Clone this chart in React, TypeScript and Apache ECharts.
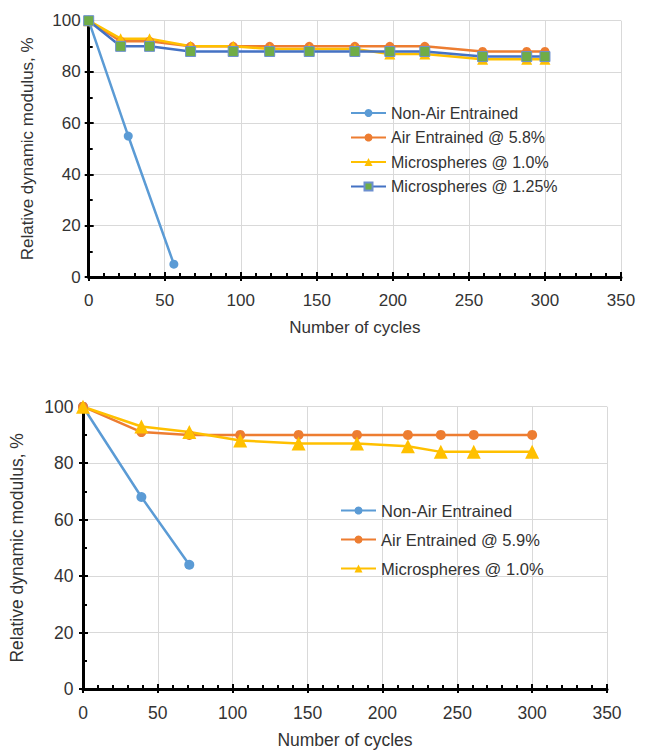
import React, { useEffect, useRef } from "react";
import * as echarts from "echarts";

// ---- Top chart data ----
const topCycles = [0, 21, 40, 67, 95, 119, 145, 175, 198, 221, 259, 288, 300];
const topNonAirCycles = [0, 26, 56];
const topNonAir = [100, 55, 5];
const topAirEntrained = [100, 92, 92, 90, 90, 90, 90, 90, 90, 90, 88, 88, 88];
const topMicro10 = [100, 93, 93, 90, 90, 89, 89, 89, 87, 87, 85, 85, 85];
const topMicro125 = [100, 90, 90, 88, 88, 88, 88, 88, 88, 88, 86, 86, 86];
const topLegend = [
  "Non-Air Entrained",
  "Air Entrained @ 5.8%",
  "Microspheres @ 1.0%",
  "Microspheres @ 1.25%",
];

// ---- Bottom chart data ----
const bottomCycles = [0, 39, 71, 105, 144, 183, 217, 239, 261, 300];
const bottomNonAirCycles = [0, 39, 71];
const bottomNonAir = [100, 68, 44];
const bottomAirEntrained = [100, 91, 90, 90, 90, 90, 90, 90, 90, 90];
const bottomMicro10 = [100, 93, 91, 88, 87, 87, 86, 84, 84, 84];
const bottomLegend = [
  "Non-Air Entrained",
  "Air Entrained @ 5.9%",
  "Microspheres @ 1.0%",
];

const xName = "Number of cycles";
const yName = "Relative dynamic modulus, %";

const BLUE = "#5B9BD5";
const ORANGE = "#ED7D31";
const YELLOW = "#FFC000";
const DARKBLUE = "#4472C4";
const GREEN = "#70AD47";
const TEXT = "#333333";
const FONT = "Liberation Sans, Arial, sans-serif";

const zip = (xs: number[], ys: number[]) => xs.map((x, i) => [x, ys[i]]);

function mainX(grid: number, fs: number) {
  return {
    type: "value",
    gridIndex: grid,
    position: "bottom",
    min: 0,
    max: 350,
    interval: 50,
    name: xName,
    nameLocation: "middle",
    nameGap: 42,
    nameTextStyle: { color: TEXT, fontSize: fs, fontFamily: FONT },
    axisLine: { show: true, onZero: false, lineStyle: { color: "#000", width: 3 } },
    axisTick: { show: true, inside: true, length: 5, lineStyle: { color: "#000", width: 2 } },
    minorTick: { show: true, splitNumber: 5, length: 4, lineStyle: { color: "#000", width: 2 } },
    axisLabel: { color: TEXT, fontSize: fs, fontFamily: FONT, margin: 15 },
    splitLine: { show: true, lineStyle: { color: "#D9D9D9", width: 1 } },
  };
}
function outerX(grid: number) {
  return {
    type: "value",
    gridIndex: grid,
    position: "bottom",
    min: 0,
    max: 350,
    interval: 50,
    axisLine: { show: false, onZero: false },
    axisTick: { show: true, inside: false, length: 4, lineStyle: { color: "#000", width: 2 } },
    axisLabel: { show: false },
    splitLine: { show: false },
  };
}
function mainY(grid: number, fs: number, nameGap: number, margin: number) {
  return {
    type: "value",
    gridIndex: grid,
    position: "left",
    min: 0,
    max: 100,
    interval: 20,
    name: yName,
    nameLocation: "middle",
    nameGap,
    nameTextStyle: { color: TEXT, fontSize: fs, fontFamily: FONT },
    axisLine: { show: true, onZero: false, lineStyle: { color: "#000", width: 3 } },
    axisTick: { show: true, inside: true, length: 5, lineStyle: { color: "#000", width: 2 } },
    minorTick: { show: true, splitNumber: 2, length: 4, lineStyle: { color: "#000", width: 2 } },
    axisLabel: { color: TEXT, fontSize: fs, fontFamily: FONT, margin },
    splitLine: { show: true, lineStyle: { color: "#D9D9D9", width: 1 } },
  };
}
function outerY(grid: number) {
  return {
    type: "value",
    gridIndex: grid,
    position: "left",
    min: 0,
    max: 100,
    interval: 20,
    axisLine: { show: false, onZero: false },
    axisTick: { show: true, inside: false, length: 4, lineStyle: { color: "#000", width: 2 } },
    axisLabel: { show: false },
    splitLine: { show: false },
  };
}

function lineSeries(
  name: string,
  axis: number,
  data: number[][],
  color: string,
  symbol: string,
  symbolSize: number | number[],
  extra: any = {}
) {
  return {
    type: "line",
    name,
    xAxisIndex: axis,
    yAxisIndex: axis,
    data,
    symbol,
    symbolSize,
    lineStyle: { color, width: 2.5 },
    itemStyle: { color },
    ...extra,
  };
}

export default function App() {
  const ref = useRef<HTMLDivElement>(null);
  useEffect(() => {
    document.body.style.margin = "0";
    if (!ref.current) return;
    const chart = echarts.init(ref.current, undefined, { renderer: "svg" });
    chart.setOption({
      animation: false,
      backgroundColor: "#fff",
      grid: [
        { left: 88.7, right: 30, top: 20.7, height: 256.3 },
        { left: 82, right: 44, top: 406.7, height: 282.3 },
      ],
      xAxis: [mainX(0, 17), mainX(1, 17.5), outerX(0), outerX(1)],
      yAxis: [mainY(0, 17, 53, 8), mainY(1, 17.5, 57, 9.5), outerY(0), outerY(1)],
      legend: [
        {
          data: topLegend,
          orient: "vertical",
          left: 350,
          top: 105,
          padding: 0,
          itemWidth: 35,
          itemHeight: 10,
          itemGap: 8.5,
          textStyle: { color: TEXT, fontSize: 16, fontFamily: FONT, lineHeight: 16 },
        },
        {
          data: bottomLegend,
          orient: "vertical",
          left: 340,
          top: 502,
          padding: 0,
          itemWidth: 35,
          itemHeight: 10,
          itemGap: 12,
          textStyle: { color: TEXT, fontSize: 16.5, fontFamily: FONT, lineHeight: 16 },
        },
      ],
      series: [
        lineSeries(topLegend[0], 0, zip(topNonAirCycles, topNonAir), BLUE, "circle", 9),
        lineSeries(topLegend[1], 0, zip(topCycles, topAirEntrained), ORANGE, "circle", 9),
        lineSeries(topLegend[2], 0, zip(topCycles, topMicro10), YELLOW, "triangle", 11),
        lineSeries(topLegend[3], 0, zip(topCycles, topMicro125), DARKBLUE, "rect", 10, {
          itemStyle: { color: GREEN, borderColor: "#6C8FD0", borderWidth: 1 },
        }),
        lineSeries(bottomLegend[0], 1, zip(bottomNonAirCycles, bottomNonAir), BLUE, "circle", 10),
        lineSeries(bottomLegend[1], 1, zip(bottomCycles, bottomAirEntrained), ORANGE, "circle", 10),
        lineSeries(bottomLegend[2], 1, zip(bottomCycles, bottomMicro10), YELLOW, "triangle", 14),
      ],
    });
    return () => chart.dispose();
  }, []);
  return <div ref={ref} style={{ width: 651, height: 751 }} />;
}
